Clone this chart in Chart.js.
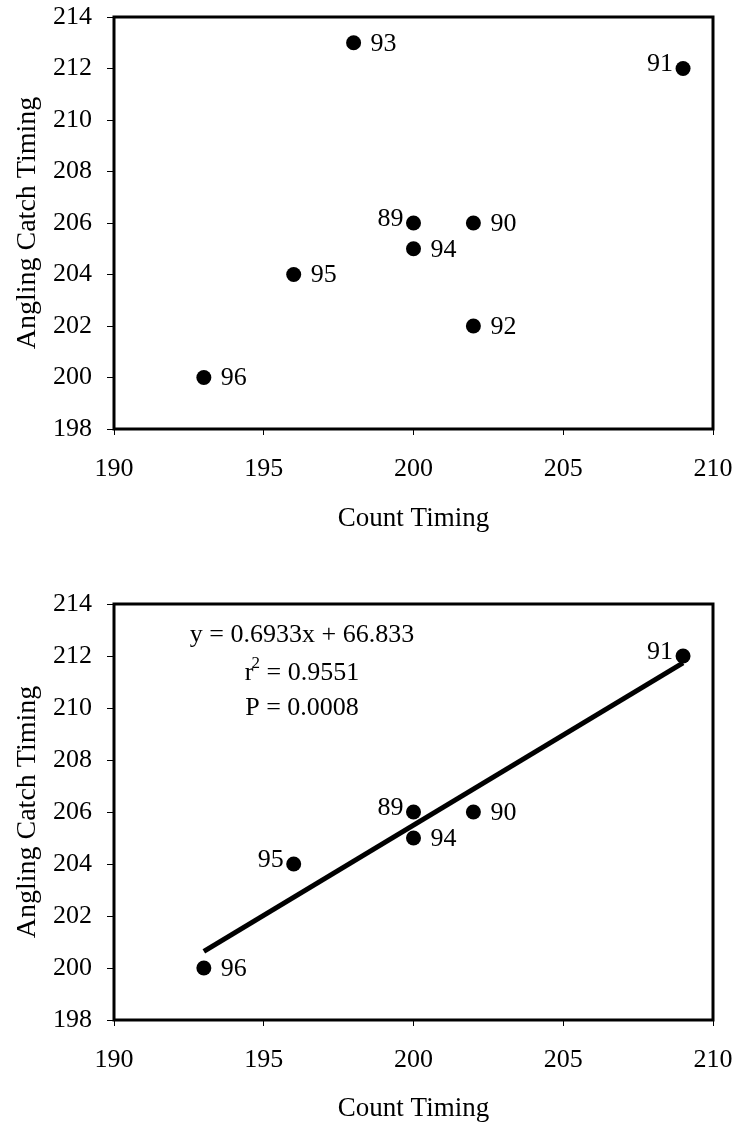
<!DOCTYPE html>
<html>
<head>
<meta charset="utf-8">
<title>Angling Catch Timing vs Count Timing</title>
<script src="https://cdn.jsdelivr.net/npm/chart.js@4/dist/chart.umd.min.js"></script>
<style>
  html, body { margin: 0; padding: 0; background: #fff; }
  #wrap { position: relative; width: 736px; height: 1125px; }
  canvas { position: absolute; left: 0; }
  #top { top: 0; }
  #bottom { top: 545px; }
</style>
</head>
<body>
<div id="wrap">
  <canvas id="top" width="736" height="545"></canvas>
  <canvas id="bottom" width="736" height="580"></canvas>
</div>
<script>
// All years
const years = ['89', '90', '91', '92', '93', '94', '95', '96'];
const countTiming = [200, 202, 209, 202, 198, 200, 196, 193];
const anglingTiming = [206, 206, 212, 202, 213, 205, 204, 200];

// Years used in the regression (92 and 93 excluded)
const fitYears = ['89', '90', '91', '94', '95', '96'];
const fitCountTiming = [200, 202, 209, 200, 196, 193];
const fitAnglingTiming = [206, 206, 212, 205, 204, 200];

// Regression fit
const slope = 0.6933;
const intercept = 66.833;
const rSquared = '0.9551';
const pValue = '0.0008';
const fitRange = [193, 209];

// Axis ticks
const xTicks = [190, 195, 200, 205, 210];
const yTicks = [198, 200, 202, 204, 206, 208, 210, 212, 214];

// Years whose label sits left of the point
const topLeftLabels = ['89', '91'];
const bottomLeftLabels = ['89', '91', '95'];

const FONT = '"Liberation Serif", "Times New Roman", serif';
Chart.defaults.font.family = FONT;
Chart.defaults.font.size = 26;
Chart.defaults.color = '#000';

function toPoints(xs, ys) {
  return xs.map((x, i) => ({ x: x, y: ys[i] }));
}

// Frame around the plotting area
const framePlugin = {
  id: 'frame',
  afterDatasetsDraw(chart) {
    const { ctx, chartArea: a } = chart;
    ctx.save();
    ctx.strokeStyle = '#000';
    ctx.lineWidth = 3;
    ctx.strokeRect(a.left, a.top, a.right - a.left, a.bottom - a.top);
    ctx.restore();
  }
};

// Year labels beside each point
const yearLabelPlugin = {
  id: 'yearLabels',
  afterDatasetsDraw(chart) {
    const { ctx } = chart;
    chart.data.datasets.forEach((ds, di) => {
      if (!ds.yearLabels) return;
      const meta = chart.getDatasetMeta(di);
      ctx.save();
      ctx.font = '26px ' + FONT;
      ctx.fillStyle = '#000';
      ctx.textBaseline = 'middle';
      meta.data.forEach((pt, i) => {
        const label = ds.yearLabels[i];
        if (ds.leftLabels.includes(label)) {
          ctx.textAlign = 'right';
          ctx.fillText(label, pt.x - 10, pt.y - 4);
        } else {
          ctx.textAlign = 'left';
          ctx.fillText(label, pt.x + 17, pt.y + 1);
        }
      });
      ctx.restore();
    });
  }
};

// Regression statistics text
const statsPlugin = {
  id: 'stats',
  afterDraw(chart) {
    if (!chart.options.plugins.stats || !chart.options.plugins.stats.show) return;
    const { ctx, chartArea: a } = chart;
    const cx = a.left + 188;
    ctx.save();
    ctx.fillStyle = '#000';
    ctx.textBaseline = 'middle';
    ctx.textAlign = 'center';
    ctx.font = '26px ' + FONT;
    ctx.fillText('y = ' + slope + 'x + ' + intercept, cx, a.top + 31);

    // r² line with a raised 2
    const rest = ' = ' + rSquared;
    const wR = ctx.measureText('r').width;
    ctx.font = '17px ' + FONT;
    const w2 = ctx.measureText('2').width;
    ctx.font = '26px ' + FONT;
    const wRest = ctx.measureText(rest).width;
    const total = wR + w2 + wRest - 2;
    const x = cx - total / 2;
    const y2 = a.top + 69;
    ctx.textAlign = 'left';
    ctx.fillText('r', x, y2);
    ctx.font = '17px ' + FONT;
    ctx.fillText('2', x + wR - 2, y2 - 9);
    ctx.font = '26px ' + FONT;
    ctx.fillText(rest, x + wR + w2 - 2, y2);

    ctx.textAlign = 'center';
    ctx.fillText('P = ' + pValue, cx, a.top + 104);
    ctx.restore();
  }
};

function makeOptions(padTop, xAxisHeight, titleBottomPad, showStats) {
  return {
    responsive: false,
    animation: false,
    events: [],
    layout: { padding: { top: padTop, right: 23, left: 0, bottom: 0 } },
    plugins: {
      legend: { display: false },
      tooltip: { enabled: false },
      stats: { show: showStats }
    },
    scales: {
      x: {
        type: 'linear',
        min: xTicks[0],
        max: xTicks[xTicks.length - 1],
        afterBuildTicks(scale) { scale.ticks = xTicks.map(v => ({ value: v })); },
        afterFit(scale) {
          scale.height = xAxisHeight;
          scale.paddingLeft = 0;
          scale.paddingRight = 0;
        },
        border: { display: false },
        grid: { drawOnChartArea: false, drawTicks: true, tickLength: 6, color: '#000', lineWidth: 1 },
        ticks: { padding: 19, color: '#000', font: { size: 26 } },
        title: { display: true, text: 'Count Timing', color: '#000', font: { size: 27 }, padding: { top: 0, bottom: titleBottomPad } }
      },
      y: {
        type: 'linear',
        min: yTicks[0],
        max: yTicks[yTicks.length - 1],
        afterBuildTicks(scale) { scale.ticks = yTicks.map(v => ({ value: v })); },
        afterFit(scale) {
          scale.width = 114;
          scale.paddingTop = 0;
          scale.paddingBottom = 0;
        },
        border: { display: false },
        grid: { drawOnChartArea: false, drawTicks: true, tickLength: 7, color: '#000', lineWidth: 1 },
        ticks: { padding: 15, color: '#000', font: { size: 26 } },
        title: { display: true, text: 'Angling Catch Timing', color: '#000', font: { size: 28 }, padding: { top: 11, bottom: 0 } }
      }
    }
  };
}

const pointStyle = {
  pointRadius: 7.5,
  pointBackgroundColor: '#000',
  pointBorderColor: '#000',
  pointBorderWidth: 0,
  showLine: false
};

// Upper panel: all years
new Chart(document.getElementById('top'), {
  type: 'scatter',
  data: {
    datasets: [Object.assign({
      data: toPoints(countTiming, anglingTiming),
      yearLabels: years,
      leftLabels: topLeftLabels
    }, pointStyle)]
  },
  options: makeOptions(17, 116, 10, false),
  plugins: [framePlugin, yearLabelPlugin, statsPlugin]
});

// Lower panel: fitted years with regression line
const fitLine = fitRange.map(x => ({ x: x, y: slope * x + intercept }));

new Chart(document.getElementById('bottom'), {
  type: 'scatter',
  data: {
    datasets: [
      {
        type: 'line',
        data: fitLine,
        borderColor: '#000',
        borderWidth: 5,
        pointRadius: 0,
        fill: false,
        order: 2
      },
      Object.assign({
        data: toPoints(fitCountTiming, fitAnglingTiming),
        yearLabels: fitYears,
        leftLabels: bottomLeftLabels,
        order: 1
      }, pointStyle)
    ]
  },
  options: makeOptions(59, 105, 0, true),
  plugins: [framePlugin, yearLabelPlugin, statsPlugin]
});
</script>
</body>
</html>
